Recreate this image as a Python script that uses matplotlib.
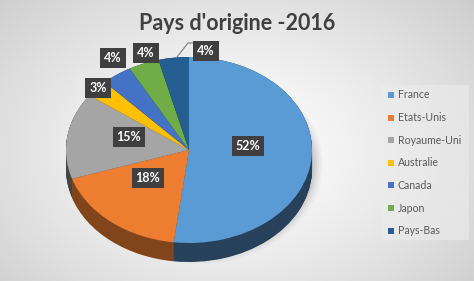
import numpy as np
import matplotlib
matplotlib.use("Agg")
import matplotlib.pyplot as plt
from matplotlib.patches import Rectangle, Ellipse
from matplotlib.colors import to_rgb

# ---- data ----
categories = ["France", "Etats-Unis", "Royaume-Uni", "Australie", "Canada", "Japon", "Pays-Bas"]
values = [52, 18, 15, 3, 4, 4, 4]
labels = ["52%", "18%", "15%", "3%", "4%", "4%", "4%"]
colors = ["#5b9bd5", "#ed7d31", "#a5a5a5", "#ffc000", "#4472c4", "#70ad47", "#255e91"]
title = "Pays d'origine -2016"

# ---- layout (pixels) ----
W, H = 474, 281
label_pos = [(248, 146), (148, 178), (129, 137), (98, 88), (113, 58), (146, 53), (206, 51)]
FONT = ["Lato", "DejaVu Sans"]

fig = plt.figure(figsize=(W / 100, H / 100), dpi=100)

# background gradient
bg = fig.add_axes([0, 0, 1, 1], zorder=0)
yy, xx = np.mgrid[0:H, 0:W]
d = np.sqrt(((xx - 230) / 330.0) ** 2 + ((yy - 150) / 230.0) ** 2)
g = 1.0 - 0.2 * np.clip(d, 0, 1) ** 1.3
bg.imshow(np.dstack([g, g, g]), extent=[0, W, H, 0], aspect="auto", interpolation="bilinear")
bg.set_xlim(0, W)
bg.set_ylim(H, 0)
bg.axis("off")

# shadow under the pie
for i, a in enumerate(np.linspace(0.02, 0.06, 6)):
    bg.add_patch(Ellipse((198, 164), 250 - i * 4, 200 - i * 4, facecolor="black",
                         alpha=a, edgecolor="none"))

# pie axes: ellipse x 66..312, top 57, bottom of top face 243, depth to 262
x0, x1, ytop, ybot, ydepth = 66, 312, 57, 243, 262
pax = fig.add_axes([x0 / W, 1 - ydepth / H, (x1 - x0) / W, (ydepth - ytop) / H], zorder=1)
depth = 2.0 * (ydepth - ybot) / (ybot - ytop)

side_cols = [tuple(c * 0.42 for c in to_rgb(col)) for col in colors]
side_cols[1] = tuple(c * 0.55 for c in to_rgb(colors[1]))
for off in np.linspace(depth, 0.0, 30):
    pax.pie(values, colors=side_cols, startangle=90, counterclock=False,
            radius=1.0, center=(0, -off), frame=True,
            wedgeprops=dict(linewidth=0, edgecolor="none"))
pax.pie(values, colors=colors, startangle=90, counterclock=False,
        radius=1.0, center=(0, 0), frame=True,
        wedgeprops=dict(linewidth=0, edgecolor="none"))
pax.set_xlim(-1, 1)
pax.set_ylim(-1 - depth, 1)
pax.set_aspect("auto")
pax.axis("off")

# overlay for text
ov = fig.add_axes([0, 0, 1, 1], zorder=2)
ov.set_xlim(0, W)
ov.set_ylim(H, 0)
ov.axis("off")
ov.patch.set_alpha(0)

ov.text(237, 24, title, ha="center", va="center", fontsize=15.5, fontweight="bold",
        color="#404040", family=FONT)

# leader line for Pays-Bas
ov.plot([177, 188, 195], [57, 43, 43], color="#7f7f7f", lw=0.8)

for (x, y), lab in zip(label_pos, labels):
    ov.text(x, y, lab, ha="center", va="center", fontsize=9, fontweight="bold",
            color="white", family=FONT,
            bbox=dict(boxstyle="square,pad=0.32", facecolor="#3f3f3f", edgecolor="none"))

# legend
ov.add_patch(Rectangle((381, 85), 88, 155, facecolor="#ececec", edgecolor="none", alpha=0.6))
for i, (cat, col) in enumerate(zip(categories, colors)):
    y = 95 + i * 22.6
    ov.add_patch(Rectangle((388, y - 3), 6, 6, facecolor=col, edgecolor="none"))
    ov.text(398, y, cat, ha="left", va="center", fontsize=7.6, color="#595959", family=FONT)

fig.savefig("out.png", dpi=100)
